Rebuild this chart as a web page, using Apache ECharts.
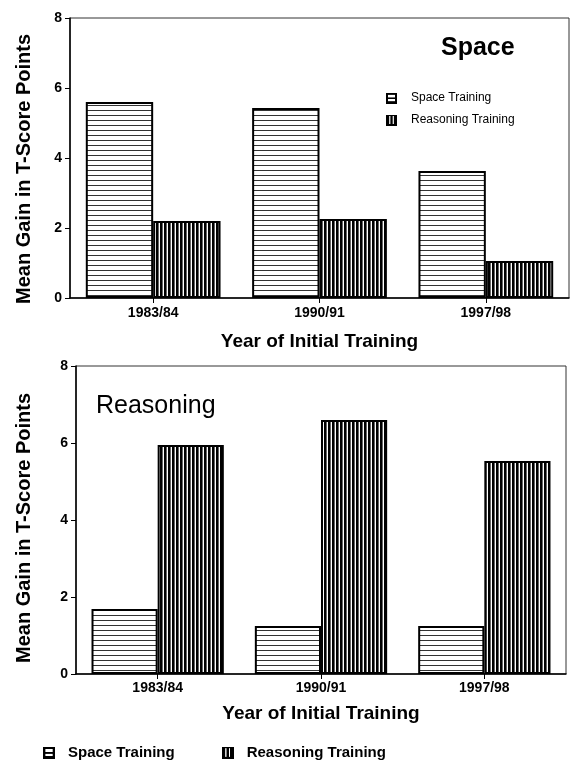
<!DOCTYPE html>
<html>
<head>
<meta charset="utf-8">
<script src="https://cdn.jsdelivr.net/npm/echarts@6/dist/echarts.min.js"></script>
<style>
html,body{margin:0;padding:0;background:#fff;}
#chart{width:583px;height:765px;}
</style>
</head>
<body>
<div id="chart"></div>
<script>
// ---- data ----
const categories = ['1983/84', '1990/91', '1997/98'];
const seriesNames = ['Space Training', 'Reasoning Training'];
const panelTitles = ['Space', 'Reasoning'];
const yTicks = [0, 2, 4, 6, 8];
// Panel 1: "Space" outcome
const spacePanelSpaceTraining = [5.6, 5.43, 3.63];
const spacePanelReasoningTraining = [2.2, 2.26, 1.06];
// Panel 2: "Reasoning" outcome
const reasoningPanelSpaceTraining = [1.69, 1.25, 1.25];
const reasoningPanelReasoningTraining = [5.95, 6.6, 5.53];
const yAxisName = 'Mean Gain in T-Score Points';
const xAxisName = 'Year of Initial Training';

// ---- patterns ----
function makeCanvas(w, h, draw) {
  const c = document.createElement('canvas');
  c.width = w; c.height = h;
  const g = c.getContext('2d');
  g.fillStyle = '#fff'; g.fillRect(0, 0, w, h);
  draw(g);
  return c;
}
const horizPattern = { image: makeCanvas(4, 5, g => { g.fillStyle = '#333'; g.fillRect(0, 0, 4, 1); }), repeat: 'repeat' };
const vertPattern = { image: makeCanvas(4, 4, g => {
  g.fillStyle = '#000'; g.fillRect(0, 0, 2, 4);
  g.fillStyle = '#666'; g.fillRect(2, 0, 1, 4);
}), repeat: 'repeat' };

// legend icons
const spaceIcon = 'image://' + makeCanvas(20, 20, g => {
  g.fillStyle = '#000';
  g.fillRect(0, 0, 20, 20);
  g.fillStyle = '#fff';
  g.fillRect(4, 4, 12, 12);
  g.fillStyle = '#000';
  g.fillRect(4, 9, 12, 3);
}).toDataURL();
const reasonIcon = 'image://' + makeCanvas(20, 20, g => {
  g.fillStyle = '#000';
  g.fillRect(0, 0, 20, 20);
  g.fillStyle = '#fff';
  g.fillRect(6, 3, 2, 14);
  g.fillRect(12, 3, 2, 14);
}).toDataURL();
const legendData = [
  { name: seriesNames[0], icon: spaceIcon },
  { name: seriesNames[1], icon: reasonIcon }
];

const FONT = 'Liberation Sans';
const chart = echarts.init(document.getElementById('chart'), null, { renderer: 'canvas' });

function yAxis(gridIndex, gap, pad) {
  return {
    type: 'value', gridIndex, min: yTicks[0], max: yTicks[yTicks.length - 1], interval: 2,
    name: yAxisName, nameLocation: 'middle', nameGap: gap,
    nameTextStyle: { fontFamily: FONT, fontWeight: 'bold', fontSize: 20, color: '#000', padding: pad },
    axisLine: { show: true, lineStyle: { color: '#000', width: 1.5 } },
    axisTick: { show: true, length: 5, lineStyle: { color: '#000' } },
    axisLabel: { fontFamily: FONT, fontWeight: 'bold', fontSize: 14, color: '#000', margin: 8 },
    splitLine: { show: false }
  };
}
function xAxis(gridIndex, gap, margin) {
  return {
    type: 'category', gridIndex, data: categories, boundaryGap: true,
    name: xAxisName, nameLocation: 'middle', nameGap: gap,
    nameTextStyle: { fontFamily: FONT, fontWeight: 'bold', fontSize: 19, color: '#000' },
    axisLine: { show: true, lineStyle: { color: '#000', width: 1.5 } },
    axisTick: { show: true, alignWithLabel: true, length: 5, lineStyle: { color: '#000' } },
    axisLabel: { fontFamily: FONT, fontWeight: 'bold', fontSize: 14, color: '#000', margin: margin },
    splitLine: { show: false }
  };
}
function bar(name, data, idx, pattern) {
  return {
    name, type: 'bar', xAxisIndex: idx, yAxisIndex: idx, data,
    barGap: '0%', barCategoryGap: '19%',
    itemStyle: { color: pattern, borderColor: '#000', borderWidth: 2 },
    emphasis: { disabled: true },
    animation: false
  };
}

const option = {
  backgroundColor: '#fff',
  animation: false,
  title: [
    { text: panelTitles[0], left: 436, top: 31,
      textStyle: { fontFamily: FONT, fontWeight: 'bold', fontSize: 25, color: '#000' } },
    { text: panelTitles[1], left: 91, top: 389,
      textStyle: { fontFamily: FONT, fontWeight: 'normal', fontSize: 25, color: '#000' } }
  ],
  legend: [
    { data: legendData, orient: 'vertical', left: 381, top: 87, itemWidth: 11, itemHeight: 11, itemGap: 10,
      textStyle: { fontFamily: FONT, fontSize: 12, color: '#000', padding: [0, 0, 0, 9] },
      selectedMode: false },
    { data: legendData, orient: 'horizontal', left: 38, top: 740, itemWidth: 12, itemHeight: 12, itemGap: 47,
      textStyle: { fontFamily: FONT, fontSize: 15, fontWeight: 'bold', color: '#000', padding: [0, 0, 0, 8] },
      selectedMode: false }
  ],
  grid: [
    { left: 70, top: 18, width: 499, height: 280, show: true, borderColor: '#333', borderWidth: 1, backgroundColor: 'transparent' },
    { left: 76, top: 366, width: 490, height: 308, show: true, borderColor: '#333', borderWidth: 1, backgroundColor: 'transparent' }
  ],
  xAxis: [xAxis(0, 34, 8), xAxis(1, 30, 7)],
  yAxis: [yAxis(0, 36, [0, 22, 0, 0]), yAxis(1, 42, [0, 16, 0, 0])],
  series: [
    bar(seriesNames[0], spacePanelSpaceTraining, 0, horizPattern),
    bar(seriesNames[1], spacePanelReasoningTraining, 0, vertPattern),
    bar(seriesNames[0], reasoningPanelSpaceTraining, 1, horizPattern),
    bar(seriesNames[1], reasoningPanelReasoningTraining, 1, vertPattern)
  ]
};
chart.setOption(option);
</script>
</body>
</html>
